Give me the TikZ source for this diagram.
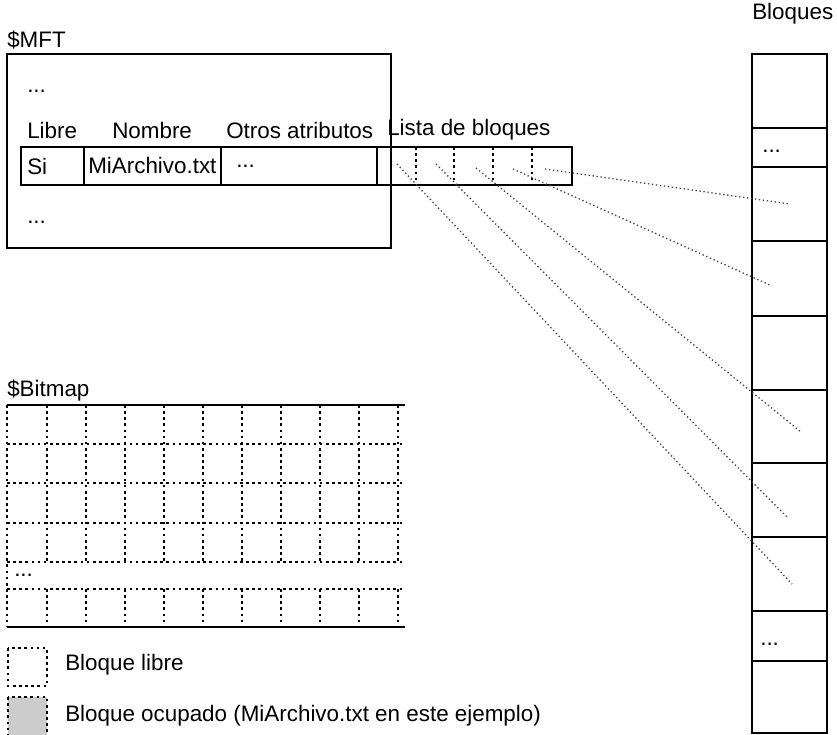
\documentclass[tikz,border=0pt]{standalone}
\usepackage{fontspec}
\setmainfont{Liberation Sans}
\usetikzlibrary{calc,positioning}
\definecolor{ocupadogray}{RGB}{204,204,204}
\definecolor{enlacegray}{RGB}{70,70,70}

\begin{document}
\begin{tikzpicture}[x=0.75pt,y=-0.75pt,line cap=butt,
  font=\fontsize{16.8}{20}\selectfont,
  texto/.style={anchor=west,inner sep=0pt},
  caja/.style={draw,line width=1.1pt},
  rejilla/.style={line width=1.1pt,dash pattern=on 2pt off 2.6pt},
  enlace/.style={enlacegray,line width=1pt,dotted}]
 \useasboundingbox (0,0) rectangle (837,734);

 % $MFT
 \node[texto] (mft) at (7,40) {\$MFT};
 \draw[caja] (7,54) rectangle (391,248);
 \node[texto] (mftdots1) at (27,91) {...};
 \node[texto] (hlibre) at (27,130) {Libre};
 \node[texto] (hnombre) at (112,130) {Nombre};
 \node[texto] (hotros) at (226,130) {Otros atributos};
 \node[texto] (hlista) at (387,130) {Lista de bloques};
 \draw[caja] (21,147) rectangle (572,185);
 \foreach \x in {84,221,377}
  \draw[caja] (\x,147) -- (\x,185);
 \foreach \x in {416,454,493,532}
  \draw[rejilla] (\x,147) -- (\x,185);
 \node[texto] (si) at (27,166) {Si};
 \node[texto] (archivo) at (88,165) {MiArchivo.txt};
 \node[texto] (otros) at (236,166) {...};
 \node[texto] (mftdots2) at (27,222) {...};

 % Bloques
 \node[texto] (bloques) at (752,14) {Bloques};
 \foreach \t/\b [count=\n] in {54/128,128/167,167/241,241/316,316/390,
   390/463,463/537,537/611,611/661,661/733}
  \draw[caja] (752,\t) rectangle (827,\b) coordinate (blk\n);
 \node[texto] (blkdots1) at (762,151) {...};
 \node[texto] (blkdots2) at (760,644) {...};

 % lista de bloques -> bloques
 \coordinate (ini1) at (397,164);
 \coordinate (ini2) at (436,164);
 \coordinate (ini3) at (476,168);
 \coordinate (ini4) at (513,169);
 \coordinate (ini5) at (545,169);
 \coordinate (fin1) at (792,584);
 \coordinate (fin2) at (787,517);
 \coordinate (fin3) at (801,432);
 \coordinate (fin4) at (772,286);
 \coordinate (fin5) at (790,204);
 \foreach \i in {1,...,5}
  \draw[enlace] (ini\i) -- (fin\i);

 % $Bitmap
 \node[texto] (bitmap) at (7,391) {\$Bitmap};
 \foreach \y in {444,483,523,562,589}
  \draw[rejilla] (7,\y) -- (405,\y);
 \foreach \x in {47,86,...,398} {
  \draw[rejilla] (\x,405) -- (\x,562);
  \draw[rejilla] (\x,589) -- (\x,627);
 }
 \draw[rejilla] (7,405) -- (7,627);
 \draw[caja] (7,405) -- (405,405);
 \draw[caja] (7,627) -- (405,627);
 \node[texto] (bitdots) at (14,575) {...};

 % leyenda
 \draw[rejilla] (8,648) rectangle (47,686);
 \draw[rejilla,fill=ocupadogray] (8,697) rectangle (47,738);
 \node[texto] (libre) at (65,665) {Bloque libre};
 \node[texto] (ocupado) at (65,716) {Bloque ocupado (MiArchivo.txt en este ejemplo)};
\end{tikzpicture}
\end{document}
